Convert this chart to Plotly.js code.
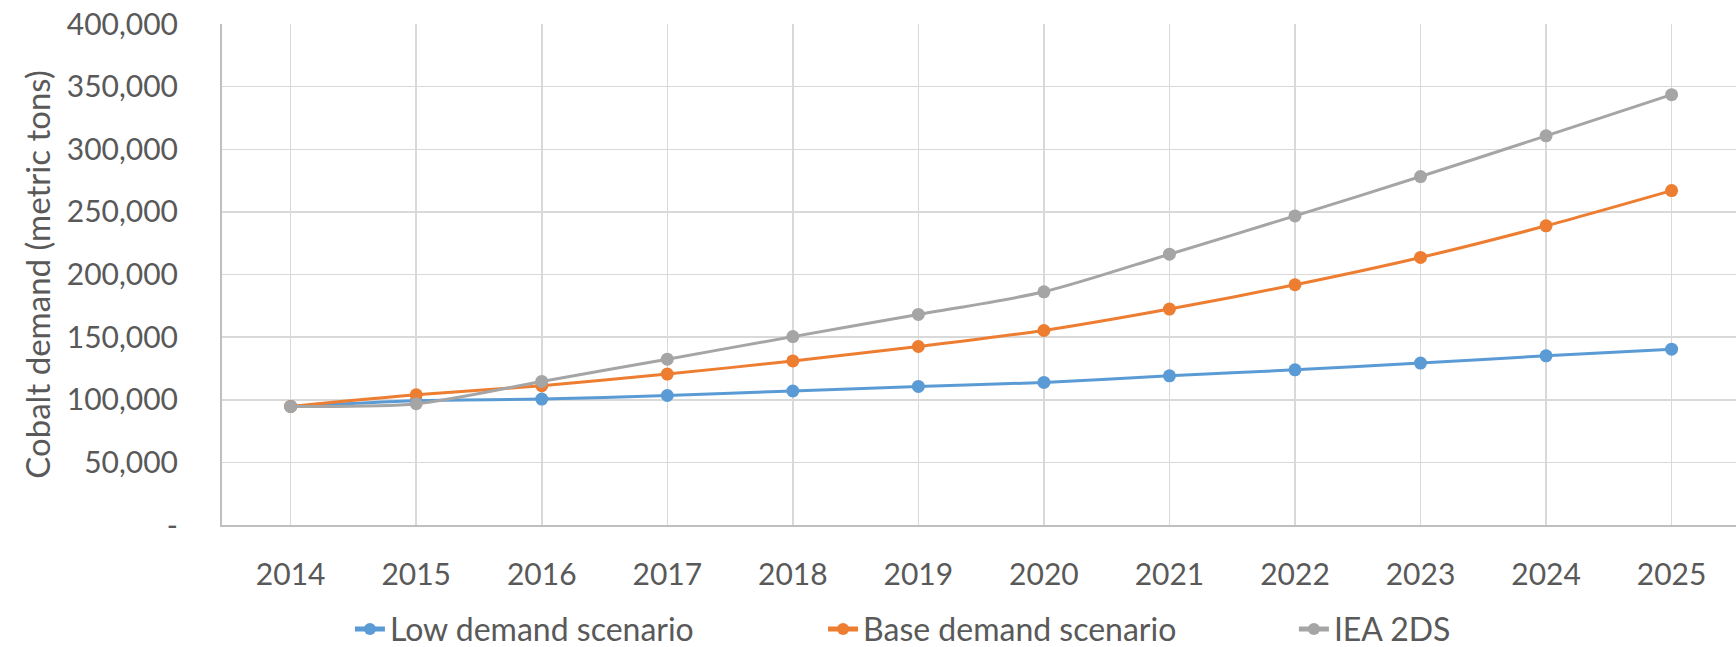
<!DOCTYPE html>
<html>
<head>
<meta charset="utf-8">
<script src="https://cdn.plot.ly/plotly-3.0.1.min.js"></script>
<style>html,body{margin:0;padding:0;background:#fff;}#chart{width:1736px;height:647px;}</style>
</head>
<body>
<div id="chart"></div>
<script>
const years = ["2014","2015","2016","2017","2018","2019","2020","2021","2022","2023","2024","2025"];
const lowDemand = [94700, 99200, 100500, 103400, 107000, 110600, 113800, 119100, 123900, 129300, 135100, 140400];
const baseDemand = [94700, 104000, 111200, 120500, 131000, 142500, 155300, 172400, 191800, 213600, 238900, 267000];
const iea2ds = [94700, 96800, 114600, 132400, 150400, 168100, 186200, 216200, 246800, 278200, 310700, 343600];
const seriesNames = ["Low demand scenario", "Base demand scenario", "IEA 2DS"];
const yTickVals = [0, 50000, 100000, 150000, 200000, 250000, 300000, 350000, 400000];
const yTickText = ["-", "50,000", "100,000", "150,000", "200,000", "250,000", "300,000", "350,000", "400,000"];
const yTitle = "Cobalt demand (metric tons)";

const colors = ["#5B9BD5", "#ED7D31", "#A5A5A5"];
const legendIds = ["legend", "legend2", "legend3"];
const legendX = [0.0845, 0.397, 0.708];
const FONT = "Lato, 'Open Sans', sans-serif";
const TXT = "#595959";

function mk(y, i) {
  return {
    x: years, y: y, name: seriesNames[i], type: "scatter", mode: "lines+markers",
    legend: legendIds[i],
    line: {color: colors[i], width: 3, shape: "spline", smoothing: 0.8},
    marker: {color: colors[i], size: 13}
  };
}
const data = [mk(lowDemand, 0), mk(baseDemand, 1), mk(iea2ds, 2)];

function legendCfg(i) {
  return {orientation: "h", x: legendX[i], xanchor: "left", y: -0.208, yanchor: "middle",
          bgcolor: "rgba(0,0,0,0)", borderwidth: 0, itemwidth: 30, itemsizing: "constant",
          font: {family: FONT, size: 32, color: TXT}};
}

const layout = {
  width: 1736, height: 647,
  margin: {l: 222, r: 0, t: 24, b: 122, autoexpand: false},
  paper_bgcolor: "#fff", plot_bgcolor: "#fff",
  font: {family: FONT, size: 30, color: TXT},
  showlegend: true,
  legend: legendCfg(0), legend2: legendCfg(1), legend3: legendCfg(2),
  xaxis: {
    type: "category", range: [-0.547, 11.513], automargin: false,
    showgrid: true, gridcolor: "#D9D9D9", gridwidth: 1.5,
    showline: true, linecolor: "#BFBFBF", linewidth: 2, zeroline: false,
    ticks: "", ticklabelstandoff: 22,
    tickfont: {family: FONT, size: 30, color: TXT}, fixedrange: true
  },
  yaxis: {
    range: [0, 400000], tickvals: yTickVals, ticktext: yTickText, automargin: false,
    showgrid: true, gridcolor: "#D9D9D9", gridwidth: 1.5,
    showline: true, linecolor: "#BFBFBF", linewidth: 2, zeroline: false,
    ticks: "", ticklabelstandoff: 36,
    tickfont: {family: FONT, size: 30, color: TXT},
    title: {text: yTitle, font: {family: FONT, size: 33, color: TXT}, standoff: 6}
  }
};
Plotly.newPlot("chart", data, layout, {staticPlot: true, displayModeBar: false});
</script>
</body>
</html>
